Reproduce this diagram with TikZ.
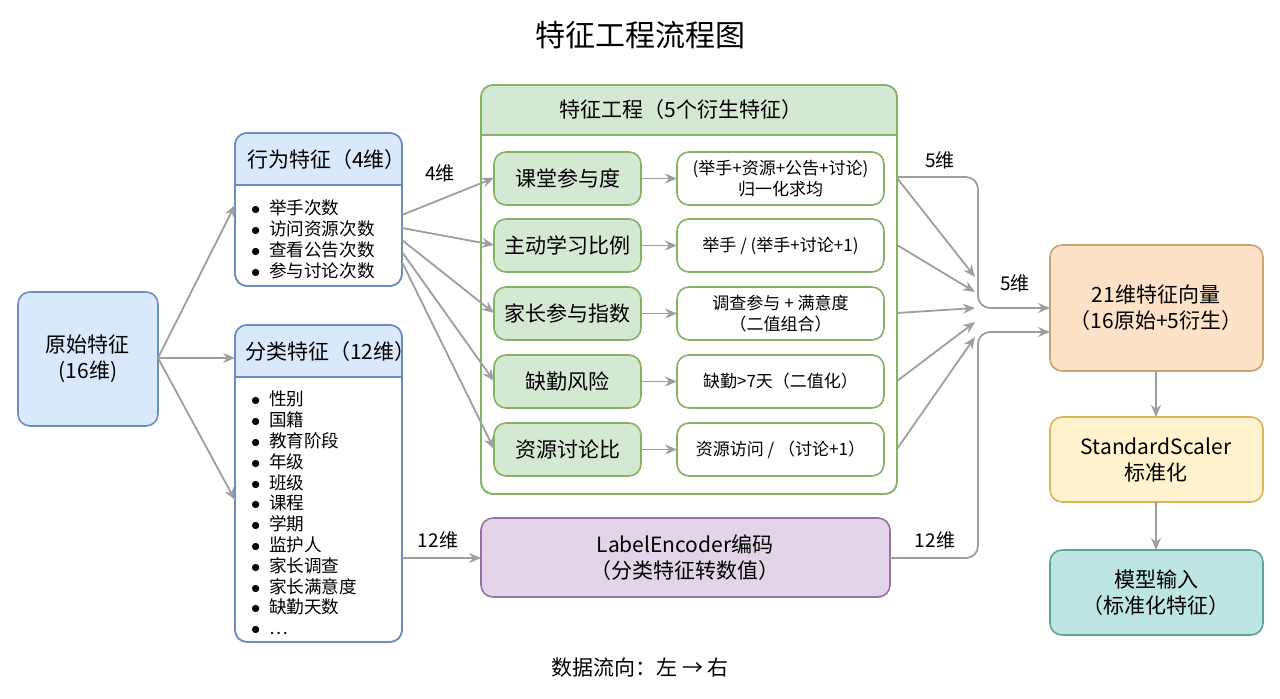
\documentclass[tikz,border=0pt]{standalone}
\usepackage{fontspec}
\setmainfont{Noto Sans CJK SC}
\usetikzlibrary{arrows.meta}
\definecolor{bf}{HTML}{DAE8FC}\definecolor{bs}{HTML}{6C8EBF}
\definecolor{gf}{HTML}{D5E8D4}\definecolor{gs}{HTML}{82B366}
\definecolor{pf}{HTML}{E1D5E7}\definecolor{ps}{HTML}{9673A6}
\definecolor{of}{HTML}{FDE2C8}\definecolor{os}{HTML}{C9A273}
\definecolor{yf}{HTML}{FFF2CC}\definecolor{ys}{HTML}{D6B656}
\definecolor{tf}{HTML}{BDE5E1}\definecolor{ts}{HTML}{5FA39B}
\definecolor{ar}{HTML}{9E9E9E}
\newcommand{\bu}{\makebox[9pt][l]{$\bullet$}}
\begin{document}
\begin{tikzpicture}[x=0.5pt,y=-0.5pt,
 box/.style={rounded corners=6pt,line width=0.8pt},
 arr/.style={draw=ar,line width=0.9pt,-{Stealth[length=6pt,width=5pt]}},
 ln/.style={draw=ar,line width=0.9pt},
 lab/.style={font=\fontsize{9.5}{10}\selectfont},
 t10/.style={font=\fontsize{10.5}{13}\selectfont,align=center},
 t9/.style={font=\fontsize{8.5}{10.5}\selectfont,align=center},
 lst/.style={font=\fontsize{8.8}{10.4}\selectfont,align=left,anchor=north west}]
\useasboundingbox (0,0) rectangle (1280,698);
\node[font=\fontsize{15}{18}\selectfont] (title) at (640,35) {特征工程流程图};
% original
\draw[box,fill=bf,draw=bs] (18,292) rectangle (158,426);
\node[t10] (orig) at (88,359) {原始特征\\(16维)};
\coordinate (o) at (158,358);
% behaviour
\draw[box,fill=white,draw=bs] (235,133) rectangle (402,286);
\begin{scope}\clip[rounded corners=6pt] (235,133) rectangle (402,286);
\fill[bf] (235,133) rectangle (402,185);\end{scope}
\draw[box,draw=bs] (235,133) rectangle (402,286);
\draw[bs,line width=0.8pt] (235,185) -- (402,185);
\node[t10,anchor=west] (beh) at (240,160) {行为特征（4维）};
\node[lst] (behl) at (244,193) {\bu 举手次数\\\bu 访问资源次数\\\bu 查看公告次数\\\bu 参与讨论次数};
% categorical
\draw[box,fill=white,draw=bs] (235,325) rectangle (402,642);
\begin{scope}\clip[rounded corners=6pt] (235,325) rectangle (402,642);
\fill[bf] (235,325) rectangle (402,377);\end{scope}
\draw[box,draw=bs] (235,325) rectangle (402,642);
\draw[bs,line width=0.8pt] (235,377) -- (402,377);
\node[t10,anchor=west] (cat) at (238,352) {分类特征（12维）};
\node[lst] (catl) at (244,384) {\bu 性别\\\bu 国籍\\\bu 教育阶段\\\bu 年级\\\bu 班级\\\bu 课程\\\bu 学期\\\bu 监护人\\\bu 家长调查\\\bu 家长满意度\\\bu 缺勤天数\\\bu …};
% container
\draw[box,fill=white,draw=gs] (481,85) rectangle (897,494);
\begin{scope}\clip[rounded corners=6pt] (481,85) rectangle (897,494);
\fill[gf] (481,85) rectangle (897,135);\end{scope}
\draw[box,draw=gs] (481,85) rectangle (897,494);
\draw[gs,line width=0.8pt] (481,135) -- (897,135);
\node[t10] (fe) at (681,110) {特征工程（5个衍生特征）};
\foreach \y/\a/\b [count=\i] in {152/课堂参与度/{(举手+资源+公告+讨论)\\归一化求均},219/主动学习比例/{举手 / (举手+讨论+1)},287/家长参与指数/{调查参与 + 满意度\\（二值组合）},355/缺勤风险/{缺勤>7天（二值化）},423/资源讨论比/{资源访问 / （讨论+1）}}{
 \draw[box,fill=gf,draw=gs] (494,\y) rectangle (641,\y+53);
 \node[t10] (d\i) at (567.5,\y+26.5) {\a};
 \draw[box,fill=white,draw=gs] (677,\y) rectangle (884,\y+53);
 \node[t9] (f\i) at (780.5,\y+26.5) {\b};
 \draw[arr] (641,\y+26.5) -- (677,\y+26.5);
}
% behaviour arrows
\draw[arr] (402,215) -- (494,178);
\draw[arr] (402,228) -- (494,245);
\draw[arr] (402,240) -- (494,313);
\draw[arr] (402,252) -- (494,381);
\draw[arr] (402,262) -- (494,449);
\node[lab] (l4) at (440,173) {4维};
% orig arrows
\draw[arr] (o) -- (235,205);
\draw[arr] (o) -- (235,358);
\draw[arr] (o) -- (235,500);
% label encoder
\draw[box,fill=pf,draw=ps] (481,518) rectangle (890,597);
\node[t10] (le) at (685,558) {LabelEncoder编码\\（分类特征转数值）};
\draw[arr] (402,558) -- (481,558);
\node[lab] (l12a) at (438,540) {12维};
% right boxes
\draw[box,fill=of,draw=os] (1050,245) rectangle (1263,371);
\node[t10] (vec) at (1156,308) {21维特征向量\\（16原始+5衍生）};
\draw[box,fill=yf,draw=ys] (1050,417) rectangle (1263,502);
\node[t10] (ss) at (1156,460) {StandardScaler\\标准化};
\draw[box,fill=tf,draw=ts] (1050,550) rectangle (1263,635);
\node[t10] (mi) at (1156,593) {模型输入\\（标准化特征）};
\draw[arr] (1156,371) -- (1156,417);
\draw[arr] (1156,502) -- (1156,550);
% convergence
\draw[arr] (897,178) -- (975,277);
\draw[arr] (897,245) -- (975,292);
\draw[arr] (897,313) -- (975,308);
\draw[arr] (897,381) -- (975,322);
\draw[arr] (897,449) -- (975,337);
\draw[arr,rounded corners=6pt] (897,177) -- (978,177) -- (978,308) -- (1050,308);
\draw[arr,rounded corners=6pt] (890,558) -- (978,558) -- (978,332) -- (1050,332);
\node[lab] (l5a) at (940,160) {5维};
\node[lab] (l5b) at (1015,283) {5维};
\node[lab] (l12b) at (935,540) {12维};
\node[font=\fontsize{10.5}{12}\selectfont] (foot) at (640,668) {数据流向：左 → 右};
\end{tikzpicture}
\end{document}
